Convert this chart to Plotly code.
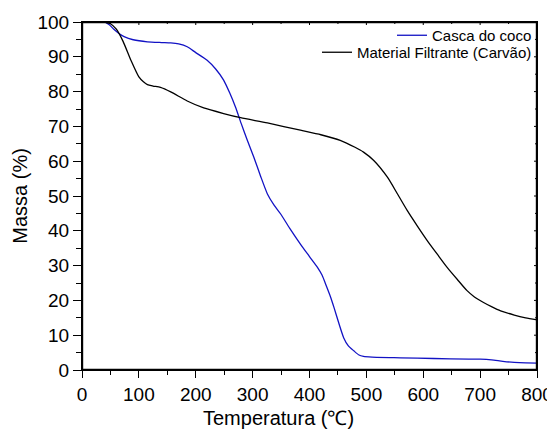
import plotly.graph_objects as go

# Casca do coco
temp_casca = [40, 48, 56, 65, 74, 90, 115, 140, 156, 170, 185, 200, 220, 235, 249, 260, 270, 280, 290, 302, 314, 326, 338, 349, 365, 384, 400, 414, 422, 430, 437, 443, 452, 460, 468, 478, 487, 495, 510, 560, 618, 680, 700, 720, 740, 760, 780, 800]
mass_casca = [100, 99.2, 97.9, 96.7, 95.8, 94.9, 94.3, 94.1, 94.0, 93.7, 92.9, 91.2, 89, 86.5, 83.3, 79.5, 75.5, 70.8, 66.3, 61.2, 55.7, 50.6, 47.3, 44.9, 40.8, 36.2, 32.6, 29.5, 27.3, 24, 21, 18, 13.2, 9.3, 7, 5.5, 4.3, 3.9, 3.7, 3.5, 3.3, 3.15, 3.1, 2.9, 2.5, 2.2, 2.05, 2.0]

# Material Filtrante (Carvão)
temp_carvao = [40, 50, 60, 72, 86, 100, 108, 115, 125, 138, 156, 185, 214, 249, 279, 326, 384, 420, 454, 480, 495, 513, 537, 555, 572, 590, 607, 625, 642, 660, 677, 690, 706, 720, 736, 760, 780, 800]
mass_carvao = [100, 99.5, 98.0, 94.5, 89, 84.2, 82.8, 82, 81.6, 81.2, 79.9, 77.3, 75.3, 73.7, 72.5, 71, 68.9, 67.6, 66, 64, 62.6, 60.2, 55.4, 50.5, 45.8, 41.3, 37.2, 33.2, 29.5, 26, 22.8, 21, 19.4, 18.2, 17, 15.8, 15, 14.4]

x_ticks = [0, 100, 200, 300, 400, 500, 600, 700, 800]
y_ticks = [0, 10, 20, 30, 40, 50, 60, 70, 80, 90, 100]
x_range = [0, 800]
y_range = [0, 100]
x_minor = [t + 50 for t in x_ticks[:-1]]
y_minor = [t + 5 for t in y_ticks[:-1]]

# figure geometry (page body adds an 8px margin, so figure is 8px smaller)
W, H = 547, 422

fig = go.Figure()
fig.add_trace(go.Scatter(x=temp_casca, y=mass_casca, mode="lines", name="Casca do coco",
                         legend="legend",
                         line=dict(color="#1212c4", width=1.3, shape="spline", smoothing=0.6)))
fig.add_trace(go.Scatter(x=temp_carvao, y=mass_carvao, mode="lines", name="Material Filtrante (Carvão)",
                         legend="legend2",
                         line=dict(color="black", width=1.3, shape="spline", smoothing=0.6)))

# plot frame as a trace along the plot edges (half clipped)
fig.add_trace(go.Scatter(x=[x_range[0], x_range[1], x_range[1], x_range[0], x_range[0]],
                         y=[y_range[0], y_range[0], y_range[1], y_range[1], y_range[0]],
                         mode="lines", name="frame", line=dict(color="black", width=2.4),
                         showlegend=False))

font_family = "Liberation Sans, Arial, sans-serif"
leg_common = dict(x=1.0, xanchor="right", yanchor="top", bgcolor="rgba(0,0,0,0)",
                  font=dict(size=15, family=font_family, color="black"), itemwidth=30)

fig.update_layout(
    width=W, height=H,
    margin=dict(l=74, r=18, t=14, b=60, autoexpand=False),
    paper_bgcolor="white", plot_bgcolor="white",
    font=dict(family=font_family, color="black"),
    showlegend=True,
    legend=dict(y=1.0086, **leg_common),
    legend2=dict(y=0.9598, **leg_common),
    xaxis=dict(range=x_range, tickvals=x_ticks, ticks="outside", ticklen=7, tickwidth=1,
               tickcolor="black", tickfont=dict(size=19),
               showline=True, mirror=True, linecolor="black", linewidth=1.2,
               showgrid=False, zeroline=False, fixedrange=True,
               minor=dict(tickvals=x_minor, ticks="outside", ticklen=4, tickcolor="black",
                          showgrid=False)),
    yaxis=dict(range=y_range, tickvals=y_ticks, ticks="outside", ticklen=8, tickwidth=1,
               tickcolor="black", tickfont=dict(size=19),
               showline=True, mirror=True, linecolor="black", linewidth=1.2,
               showgrid=False, zeroline=False, fixedrange=True,
               minor=dict(tickvals=y_minor, ticks="outside", ticklen=5, tickcolor="black",
                          showgrid=False)),
)

line_style = dict(color="black", width=1)
# inward ticks on the top and right edges
for vals, ln in ((x_ticks, 3), (x_minor, 2)):
    for v in vals:
        fig.add_shape(type="line", xref="x", yref="paper", ysizemode="pixel", yanchor=1,
                      x0=v, x1=v, y0=0, y1=-ln, line=line_style, layer="above")
for vals, ln in ((y_ticks, 3), (y_minor, 2)):
    for v in vals:
        fig.add_shape(type="line", yref="y", xref="paper", xsizemode="pixel", xanchor=1,
                      y0=v, y1=v, x0=0, x1=-ln, line=line_style, layer="above")

fig.add_annotation(text="Temperatura (℃)", xref="paper", yref="paper", x=0.431, y=-0.138,
                   xanchor="center", yanchor="middle", showarrow=False, font=dict(size=20))
fig.add_annotation(text="Massa (%)", xref="paper", yref="paper", x=-0.137, y=0.5,
                   xanchor="center", yanchor="middle", showarrow=False, textangle=-90,
                   font=dict(size=20))

fig.write_html("out.html")
